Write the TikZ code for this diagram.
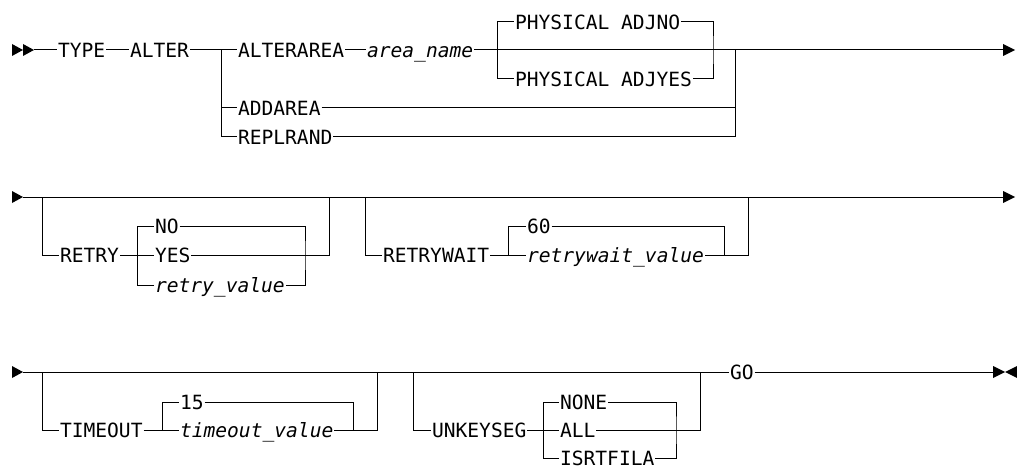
\documentclass[tikz,border=0pt]{standalone}
\usepackage{fontspec}
\setmonofont{DejaVu Sans Mono}
\usetikzlibrary{positioning}

\begin{document}
\begin{tikzpicture}[x=1pt,y=-1pt,line width=1pt,
	font=\ttfamily\fontsize{19.6}{20}\selectfont]
	\tikzstyle{kw}=[inner xsep=0.5pt, inner ysep=0pt, text height=14.3pt, text depth=0pt, anchor=west]
	\tikzstyle{var}=[kw, font=\ttfamily\itshape\fontsize{19.6}{20}\selectfont]
	\useasboundingbox (0,0) rectangle (1017,468);
	% row 1
		\fill (12,44) -- (23,50) -- (12,56) -- cycle;
		\fill (23,44) -- (34,50) -- (23,56) -- cycle;
		\coordinate (s1) at (34,50);
		\node[kw] (type) at (57,50) {TYPE};
		\node[kw] (alter) at (129,50) {ALTER};
		\coordinate (j1) at (221,50);
		\node[kw] (alterarea) at (237,50) {ALTERAREA};
		\node[var] (areaname) at (366,50) {area\_name};
		\coordinate (j2) at (497,50);
		\node[kw] (adjno) at (514,22) {PHYSICAL ADJNO};
		\node[kw] (adjyes) at (514,79) {PHYSICAL ADJYES};
		\coordinate (j3) at (713,50);
		\coordinate (j4) at (735,50);
		\node[kw] (addarea) at (237,108) {ADDAREA};
		\node[kw] (replrand) at (237,137) {REPLRAND};
		\coordinate (e1) at (1003,50);
			\draw (s1) -- (type) -- (alter) -- (alterarea) -- (areaname) -- (e1);
			\draw (j2) |- (adjno) -| (j3) |- (adjyes);
			\draw (j2) |- (adjyes);
			\draw (j1) |- (addarea) -| (j4);
			\draw (j1) |- (replrand) -| (j4);
		\fill (1003,44) -- (1015,50) -- (1003,56) -- cycle;
	% row 2
		\fill (12,191) -- (23,197) -- (12,203) -- cycle;
		\coordinate (s2) at (23,197);
		\coordinate (e2) at (1003,197);
			\draw (s2) -- (e2);
		\fill (1003,191) -- (1015,197) -- (1003,203) -- cycle;
		\coordinate (r1) at (42,197);
		\node[kw] (retry) at (59,255) {RETRY};
		\coordinate (r2) at (137,255);
		\node[kw] (no) at (154,226) {NO};
		\node[kw] (yes) at (154,255) {YES};
		\node[var] (retryval) at (154,285) {retry\_value};
		\coordinate (r3) at (305,255);
		\coordinate (r4) at (329,197);
			\draw (r1) |- (retry) -- (yes) -| (r4);
			\draw (r2) |- (no) -| (r3) |- (retryval) -| (r2);
		\coordinate (w1) at (365,197);
		\node[kw] (retrywait) at (382,255) {RETRYWAIT};
		\coordinate (w2) at (508,255);
		\node[kw] (sixty) at (526,226) {60};
		\node[var] (rwval) at (526,255) {retrywait\_value};
		\coordinate (w3) at (724,255);
		\coordinate (w4) at (748,197);
			\draw (w1) |- (retrywait) -- (rwval) -| (w4);
			\draw (w2) |- (sixty) -| (w3);
	% row 3
		\fill (12,366) -- (23,372) -- (12,378) -- cycle;
		\coordinate (s3) at (23,372);
		\node[kw] (go) at (729,372) {GO};
		\coordinate (e3) at (993,372);
			\draw (s3) -- (go) -- (e3);
		\fill (993,366) -- (1005,372) -- (993,378) -- cycle;
		\fill (1017,366) -- (1005,372) -- (1017,378) -- cycle;
		\coordinate (t1) at (42,372);
		\node[kw] (timeout) at (59,430) {TIMEOUT};
		\coordinate (t2) at (162,430);
		\node[kw] (fifteen) at (179,402) {15};
		\node[var] (toval) at (179,430) {timeout\_value};
		\coordinate (t3) at (353,430);
		\coordinate (t4) at (377,372);
			\draw (t1) |- (timeout) -- (toval) -| (t4);
			\draw (t2) |- (fifteen) -| (t3);
		\coordinate (u1) at (413,372);
		\node[kw] (unkeyseg) at (431,430) {UNKEYSEG};
		\coordinate (u2) at (543,430);
		\node[kw] (none) at (559,402) {NONE};
		\node[kw] (all) at (559,430) {ALL};
		\node[kw] (isrtfila) at (559,458) {ISRTFILA};
		\coordinate (u3) at (676,430);
		\coordinate (u4) at (700,372);
			\draw (u1) |- (unkeyseg) -- (all) -| (u4);
			\draw (u2) |- (none) -| (u3) |- (isrtfila) -| (u2);
\end{tikzpicture}
\end{document}
